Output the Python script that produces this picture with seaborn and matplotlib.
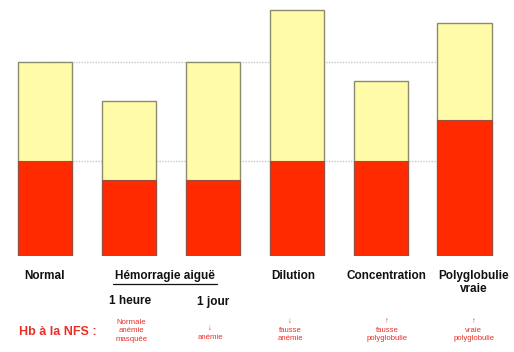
import pandas as pd
import matplotlib.pyplot as plt
import matplotlib.transforms as mtransforms
import seaborn as sns

# Bar heights (arbitrary volume units): total blood volume and red cell part
categories = ['Normal', 'Hémorragie 1 heure', 'Hémorragie 1 jour',
              'Dilution', 'Concentration', 'Polyglobulie vraie']
total_volume = [100, 80, 100, 127, 90, 120]
red_volume = [49, 39, 39, 49, 49, 70]
ref_levels = [49, 100]

# Labels under the bars
main_labels = ['Normal', 'Dilution', 'Concentration', 'Polyglobulie\nvraie']
main_label_x = [0, 2.96, 4.07, 5.11]
sub_labels = ['1 heure', '1 jour']
hb_labels = ['Normale\nanémie\nmasquée', '↓\nanémie', '↓\nfausse\nanémie',
             '↑\nfausse\npolyglobulie', '↑\nvraie\npolyglobulie']

YELLOW = '#FFFBA8'
RED = '#FF2A00'
EDGE = '#8C8B6E'
TXT_RED = '#E8302A'
BAR_W = 0.644

sns.set_theme(style='white')
plt.rcParams['font.family'] = ['Liberation Sans', 'DejaVu Sans']

df = pd.DataFrame({'cat': categories, 'total': total_volume, 'red': red_volume})

fig = plt.figure(figsize=(5.14, 3.52), dpi=100)
ax = fig.add_axes([0, 96 / 352, 1, 256 / 352])

ax.hlines(ref_levels, 0, 5 - BAR_W / 2, colors='#c8c8c8', linestyles=(0, (1, 1)),
          linewidth=1, zorder=0)
sns.barplot(data=df, x='cat', y='total', color=YELLOW, width=BAR_W,
            edgecolor=EDGE, linewidth=1, saturation=1, ax=ax, zorder=2)
sns.barplot(data=df, x='cat', y='red', color=RED, width=BAR_W,
            edgecolor='#9a5040', linewidth=0.8, saturation=1, ax=ax, zorder=3)

ax.set_xlim(-0.536, 5.59)
ax.set_ylim(0, 132)
ax.axis('off')

# text: x in data units, y in figure fraction
trans = mtransforms.blended_transform_factory(ax.transData, fig.transFigure)
def fy(ypix):
    return 1 - ypix / 352

for x, lab in zip(main_label_x, main_labels):
    ax.text(x, fy(270), lab, transform=trans, ha='center', va='top',
            fontsize=8.5, fontweight='bold', color='#111111', linespacing=1.15)
ax.text(1.43, fy(270), 'Hémorragie aiguë', transform=trans, ha='center', va='top',
        fontsize=8.5, fontweight='bold', color='#111111')
ax.plot([0.81, 2.05], [fy(284), fy(284)], transform=trans, color='#111111',
        lw=0.9, clip_on=False)
ax.text(1.02, fy(301), sub_labels[0], transform=trans, ha='center', va='center',
        fontsize=8.5, fontweight='bold', color='#111111')
ax.text(2.0, fy(302), sub_labels[1], transform=trans, ha='center', va='center',
        fontsize=8.5, fontweight='bold', color='#111111')

ax.text(58 / 83.9 - 0.536, fy(332), 'Hb à la NFS :', transform=trans, ha='center',
        va='center', fontsize=9, fontweight='bold', color=TXT_RED)
hb_x = [1.03, 1.97, 2.92, 4.08, 5.11]
hb_y = [331, 333, 330, 330, 330]
for x, y, lab in zip(hb_x, hb_y, hb_labels):
    ax.text(x, fy(y), lab, transform=trans, ha='center', va='center',
            fontsize=5.6, color=TXT_RED, linespacing=1.3)

fig.savefig('out.png', dpi=100)
